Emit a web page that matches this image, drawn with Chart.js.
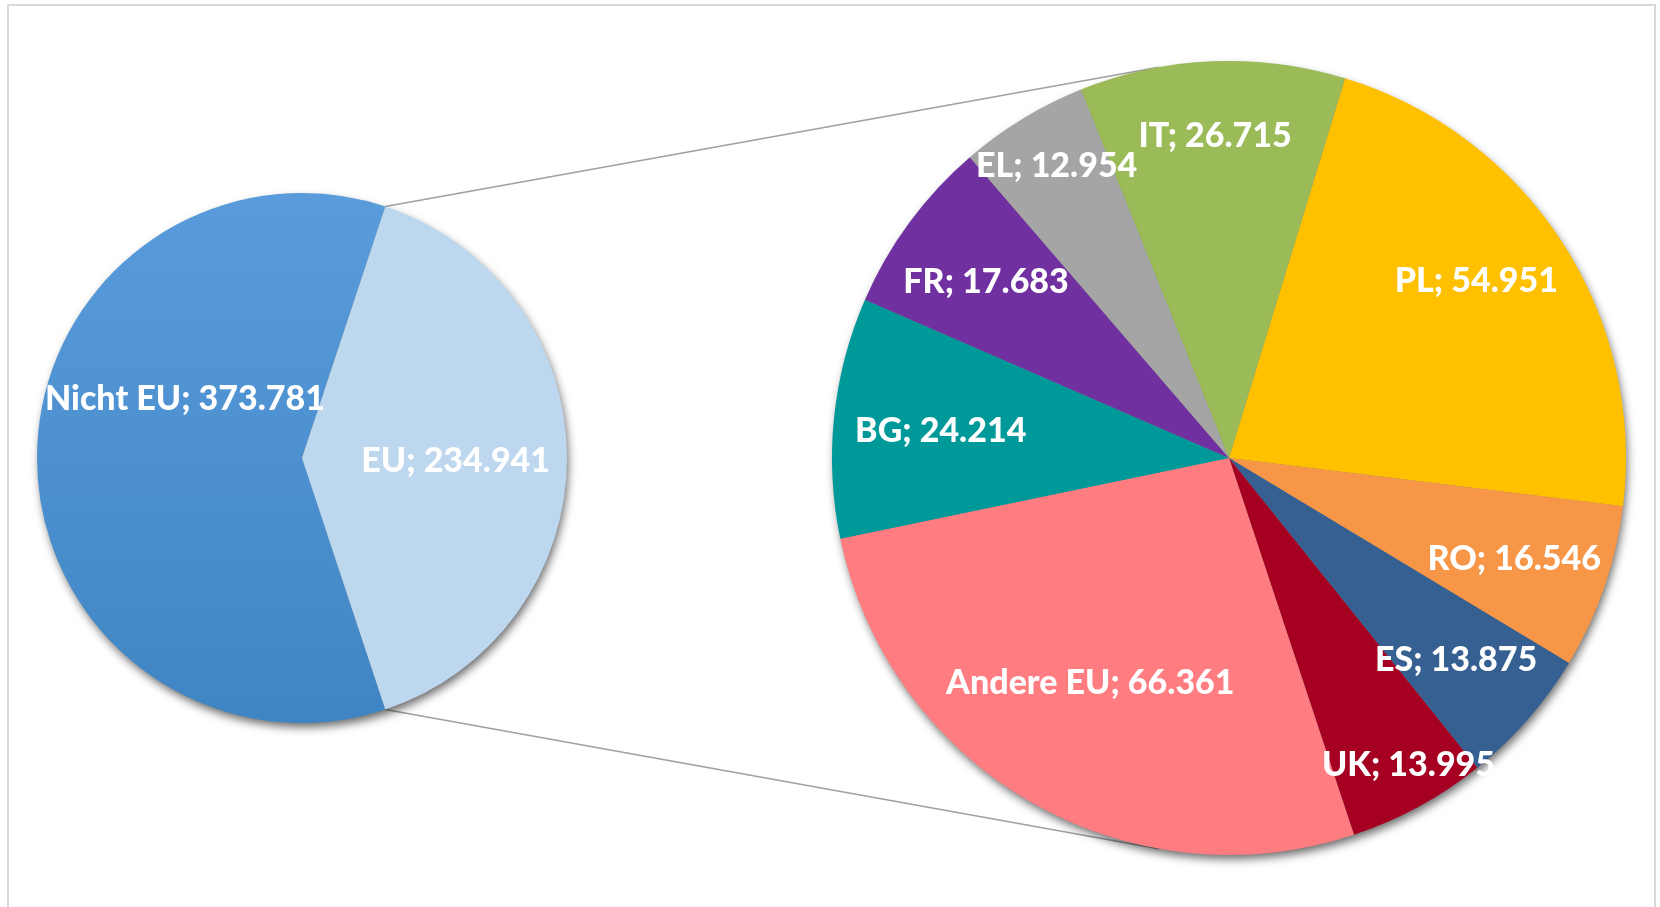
<!DOCTYPE html>
<html>
<head>
<meta charset="utf-8">
<script src="https://cdn.jsdelivr.net/npm/chart.js@4.4.1/dist/chart.umd.min.js"></script>
<style>
  html, body { margin: 0; padding: 0; width: 1660px; height: 907px; overflow: hidden; background: #fff; }
  #rahmen { position: absolute; left: 7px; top: 4px; width: 1645px; height: 920px; border: 2px solid #D9D9D9; }
  #linien { position: absolute; left: 0; top: 0; }
  .box { position: absolute; }
</style>
</head>
<body>
<div id="rahmen"></div>
<canvas id="linien" width="1660" height="907"></canvas>
<div class="box" id="boxLinks" style="left:17px;top:173px;width:570px;height:570px"><canvas id="pieLinks"></canvas></div>
<div class="box" id="boxRechts" style="left:812px;top:41px;width:834px;height:834px"><canvas id="pieRechts"></canvas></div>

<script>
// Daten
const hauptLabels = ['Nicht EU', 'EU'];
const hauptWerte = [373781, 234941];
const euLabels = ['PL', 'RO', 'ES', 'UK', 'Andere EU', 'BG', 'FR', 'EL', 'IT'];
const euWerte = [54951, 16546, 13875, 13995, 66361, 24214, 17683, 12954, 26715];

const euFarben = ['#FFC000', '#F79646', '#366092', '#A50021', '#FF7C80', '#009999', '#7030A0', '#A5A5A5', '#9BBB59'];

function fmt(v) {
  return Math.round(v).toString().replace(/\B(?=(\d{3})+(?!\d))/g, '.');
}

// wie in Excel: das EU-Stück links wird aus der Summe des rechten Kreises gezeichnet
const euSumme = euWerte.reduce(function(a, b) { return a + b; }, 0);
const linksWerte = [hauptWerte[0], euSumme];

// Schatten unter dem Kreis
const schatten = {
  id: 'schatten',
  beforeDatasetsDraw(chart) {
    const arc = chart.getDatasetMeta(0).data[0];
    const ctx = chart.ctx;
    ctx.save();
    ctx.shadowColor = 'rgba(0,0,0,0.6)';
    ctx.shadowBlur = 10;
    ctx.shadowOffsetX = 2;
    ctx.shadowOffsetY = 5;
    ctx.fillStyle = '#888';
    ctx.beginPath();
    ctx.arc(arc.x, arc.y, arc.outerRadius - 1, 0, Math.PI * 2);
    ctx.fill();
    ctx.restore();
  }
};

// Datenbeschriftungen "Name; Wert"
const etiketten = {
  id: 'etiketten',
  afterDatasetsDraw(chart, args, opts) {
    const ctx = chart.ctx;
    const meta = chart.getDatasetMeta(0);
    ctx.save();
    ctx.font = '900 34px Lato';
    ctx.fillStyle = '#fff';
    ctx.textAlign = 'center';
    ctx.textBaseline = 'middle';
    meta.data.forEach(function(arc, i) {
      const lab = chart.data.labels[i];
      const pos = opts.pos[lab] || {};
      const r = arc.outerRadius * (pos.r || opts.r);
      const a = (arc.startAngle + arc.endAngle) / 2 + (pos.a || 0) * Math.PI / 180;
      ctx.fillText(lab + '; ' + fmt(opts.werte[i]), arc.x + Math.cos(a) * r, arc.y + Math.sin(a) * r + 3);
    });
    ctx.restore();
  }
};

// Drehung: EU-Stück zeigt nach rechts
const summe = linksWerte[0] + linksWerte[1];
const spanNicht = linksWerte[0] / summe * 360;
const spanEU = linksWerte[1] / summe * 360;

const links = new Chart(document.getElementById('pieLinks'), {
  type: 'pie',
  data: {
    labels: hauptLabels,
    datasets: [{
      data: linksWerte,
      borderWidth: 0,
      backgroundColor: function(c) {
        if (c.dataIndex === 1) return '#BDD7EE';
        const area = c.chart.chartArea;
        if (!area) return '#4A8FD0';
        const g = c.chart.ctx.createLinearGradient(0, area.top, 0, area.bottom);
        g.addColorStop(0, '#5A9CDB');
        g.addColorStop(1, '#3F85C4');
        return g;
      }
    }]
  },
  options: {
    responsive: true,
    maintainAspectRatio: false,
    animation: false,
    events: [],
    rotation: 90 - spanNicht - spanEU / 2,
    layout: { padding: 20 },
    plugins: {
      legend: { display: false },
      tooltip: { enabled: false },
      etiketten: { werte: hauptWerte, r: 0.58, pos: { 'Nicht EU': { r: 0.5, a: 28 } } }
    }
  },
  plugins: [schatten, etiketten]
});

const rechts = new Chart(document.getElementById('pieRechts'), {
  type: 'pie',
  data: {
    labels: euLabels,
    datasets: [{
      data: euWerte,
      borderWidth: 0,
      backgroundColor: euFarben
    }]
  },
  options: {
    responsive: true,
    maintainAspectRatio: false,
    animation: false,
    events: [],
    rotation: 17,
    layout: { padding: 20 },
    plugins: {
      legend: { display: false },
      tooltip: { enabled: false },
      etiketten: {
        werte: euWerte,
        r: 0.76,
        pos: {
          'PL': { r: 0.77, a: -3 },
          'IT': { r: 0.82 },
          'BG': { r: 0.73 },
          'UK': { r: 0.89, a: -2 },
          'EL': { r: 0.86, a: 1 },
          'Andere EU': { r: 0.66, a: 2 }
        }
      }
    }
  },
  plugins: [schatten, etiketten]
});

// Verbindungslinien: Tangenten vom EU-Stück zum rechten Kreis
function zeichneLinien() {
  const ctx = document.getElementById('linien').getContext('2d');
  const oL = document.getElementById('pieLinks').getBoundingClientRect();
  const oR = document.getElementById('pieRechts').getBoundingClientRect();
  const eu = links.getDatasetMeta(0).data[1];
  const k = rechts.getDatasetMeta(0).data[0];
  const cx = oR.left + k.x, cy = oR.top + k.y, R = k.outerRadius;
  ctx.strokeStyle = '#A0A0A0';
  ctx.lineWidth = 1.6;
  [[eu.startAngle, -1], [eu.endAngle, 1]].forEach(function(p) {
    const px = oL.left + eu.x + Math.cos(p[0]) * eu.outerRadius;
    const py = oL.top + eu.y + Math.sin(p[0]) * eu.outerRadius;
    const dx = cx - px, dy = cy - py;
    const d = Math.sqrt(dx * dx + dy * dy);
    const th = Math.atan2(dy, dx) + p[1] * Math.asin(R / d);
    const L = Math.sqrt(d * d - R * R);
    ctx.beginPath();
    ctx.moveTo(px, py);
    ctx.lineTo(px + Math.cos(th) * L, py + Math.sin(th) * L);
    ctx.stroke();
  });
}
zeichneLinien();
</script>
</body>
</html>
